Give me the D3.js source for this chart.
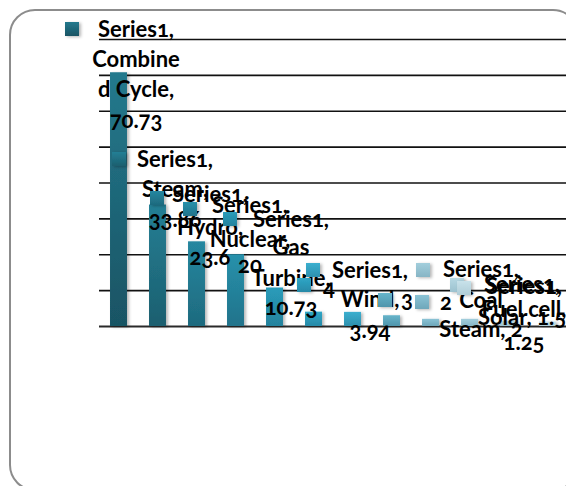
<!DOCTYPE html>
<html><head><meta charset="utf-8">
<script src="https://cdn.jsdelivr.net/npm/d3@7"></script>
<style>
html,body{margin:0;padding:0;background:#fff;}
svg{display:block;}
text{font-family:Lato,"Open Sans",sans-serif;font-weight:700;font-size:22px;fill:#000;font-feature-settings:"onum";}
</style></head>
<body>
<script>
// ---- data ----
const seriesName = "Series1";
const categories = ["Combined Cycle","Steam","Hydro","Nuclear","Gas Turbine","","Wind","","","Coal Steam","Solar","Fuel cell"];
const values = [70.73, 33.86, 23.6, 20, 10.73, 4, 3.94, 3, 2, 2, 1.5, 1.25];
const yTicks = [0,10,20,30,40,50,60,70,80];

// ---- styles / layout (not data) ----
const topColors = ["#24798d","#247f95","#2587a0","#2791ab","#2a9cba","#2ea6c6","#3bafcf","#66b4ca","#8bc3d5","#a2cedc","#b6d8e3","#c8e2ea"];
const botColors = ["#195464","#1c5f6f","#1e6a7e","#21738b","#24829d","#2789a7","#2d90ae","#4f95ac","#6ea7ba","#87b5c5","#9cc2cf","#afcdd7"];
// label layout: dx from bar centre, baselines, split rule, join value, marker offset
const labelLayout = [
  {dx:17.5, base:[37,67,97,128], split:7, join:false, mdx:-71, mdy:-15},
  {dx:17.5, base:[167,197,227], split:null, join:false, mdx:-63, mdy:-15},
  {dx:13.5, base:[202,235,265], split:null, join:false, mdx:-60, mdy:-11},
  {dx:14.5, base:[213,247,273], split:null, join:false, mdx:-67, mdy:-11},
  {dx:16.5, base:[227,255,286,315], split:"word", join:false, mdx:-68, mdy:-15},
  {dx:15.5, base:[295], split:null, join:false, mdx:-32, mdy:-17},
  {dx:17.5, base:[278,307,338], split:null, join:false, mdx:-64, mdy:-15},
  {dx:15.5, base:[307], split:null, join:false, mdx:-29, mdy:-14},
  {dx:15.5, base:[310], split:null, join:false, mdx:-31, mdy:-15},
  {dx:11.5, base:[277,308,337], split:"word", join:true, mdx:-65, mdy:-14},
  {dx:13.5, base:[292,325], split:null, join:true, mdx:-72, mdy:-14},
  {dx:-23.5, base:[294,317,350], split:null, join:false, mdx:-67, mdy:-13}
];

const W = 566, H = 486;
const svg = d3.select("body").append("svg").attr("width", W).attr("height", H);
const defs = svg.append("defs");

values.forEach((v,i)=>{
  const g = defs.append("linearGradient").attr("id","g"+i).attr("x1",0).attr("y1",0).attr("x2",0).attr("y2",1);
  g.append("stop").attr("offset","0%").attr("stop-color",topColors[i]);
  g.append("stop").attr("offset","100%").attr("stop-color",botColors[i]);
});
const f = defs.append("filter").attr("id","sh").attr("x","-30%").attr("y","-30%").attr("width","160%").attr("height","160%");
f.append("feDropShadow").attr("dx",2).attr("dy",1).attr("stdDeviation",1.5).attr("flood-color","#000").attr("flood-opacity",0.28);

// frame
svg.append("rect").attr("x",10).attr("y",10).attr("width",568).attr("height",480)
  .attr("rx",25).attr("ry",25).attr("fill","#fff").attr("stroke","#8c8c8c").attr("stroke-width",2);

const x = d3.scaleBand().domain(d3.range(values.length)).range([99, 567]).paddingInner(0.565).paddingOuter(0.2825);
const y = d3.scaleLinear().domain([0,80]).range([326, 39]);

// gridlines via axis
const gAxis = svg.append("g").attr("transform","translate(99,0)")
  .call(d3.axisLeft(y).tickValues(yTicks).tickSize(-470).tickFormat(""));
gAxis.select(".domain").remove();
gAxis.selectAll(".tick line").attr("stroke","#111").attr("stroke-width",1.6);
gAxis.selectAll(".tick").filter(d=>d===0).select("line").attr("stroke","#2a2a2a").attr("stroke-width",2.2);

// bars
svg.append("g").selectAll("rect").data(values).join("rect")
  .attr("x",(d,i)=>x(i)).attr("width",x.bandwidth())
  .attr("y",d=>y(d)).attr("height",d=>y(0)-y(d))
  .attr("fill",(d,i)=>`url(#g${i})`).attr("filter","url(#sh)");

// labels
function labelLines(i){
  const cat = categories[i], v = String(values[i]), L = labelLayout[i];
  if(!cat) return [v];
  const s = cat + ",";
  let parts;
  if(L.split === "word"){ const w = cat.split(" "); w[w.length-1] += ","; parts = w; }
  else if(typeof L.split === "number"){ parts = [s.slice(0,L.split), s.slice(L.split).trim()]; }
  else parts = [s];
  if(L.join) parts[parts.length-1] += " " + v; else parts.push(v);
  return [seriesName + ","].concat(parts);
}
const lg = svg.append("g");
values.forEach((v,i)=>{
  const L = labelLayout[i];
  const cx = x(i) + x.bandwidth()/2 + L.dx;
  const g = lg.append("g");
  g.append("rect").attr("x",cx+L.mdx).attr("y",L.base[0]+L.mdy).attr("width",14).attr("height",14)
    .attr("fill",`url(#g${i})`).attr("filter","url(#sh)");
  labelLines(i).forEach((t,k)=>{
    g.append("text").attr("x",cx).attr("y",L.base[k]).attr("text-anchor","middle").text(t);
  });
});
</script>
</body></html>
